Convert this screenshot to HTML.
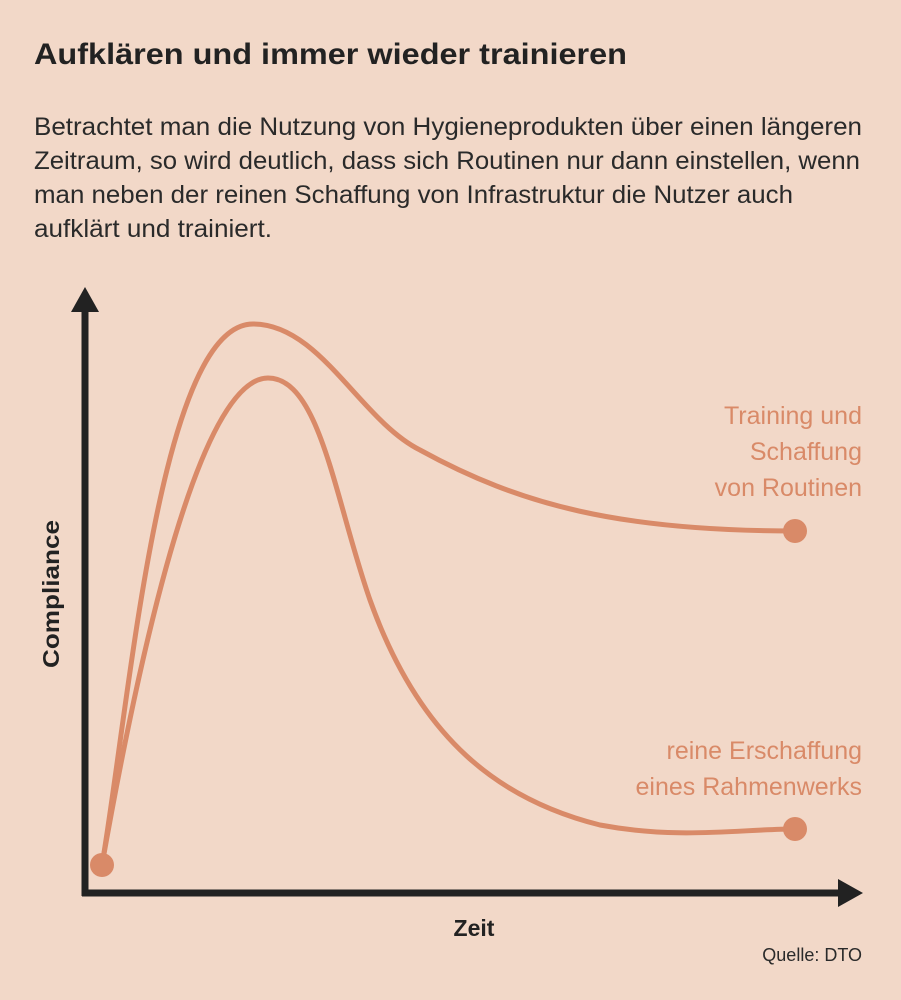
<!DOCTYPE html>
<html><head><meta charset="utf-8"><style>
html,body{margin:0;padding:0;}
body{width:901px;height:1000px;background:#f2d8c8;overflow:hidden;position:relative;font-family:"Liberation Sans",sans-serif;}
</style></head><body>
<svg width="901" height="1000" viewBox="0 0 901 1000" xmlns="http://www.w3.org/2000/svg" style="position:absolute;left:0;top:0">
<text x="34" y="64" font-family="Liberation Sans" font-weight="bold" font-size="30" fill="#222" textLength="593" lengthAdjust="spacingAndGlyphs">Aufklären und immer wieder trainieren</text>
<g font-family="Liberation Sans" font-size="25" fill="#2a2a2a">
<text x="34" y="135" textLength="828" lengthAdjust="spacingAndGlyphs">Betrachtet man die Nutzung von Hygieneprodukten über einen längeren</text>
<text x="34" y="169" textLength="826" lengthAdjust="spacingAndGlyphs">Zeitraum, so wird deutlich, dass sich Routinen nur dann einstellen, wenn</text>
<text x="34" y="203" textLength="759" lengthAdjust="spacingAndGlyphs">man neben der reinen Schaffung von Infrastruktur die Nutzer auch</text>
<text x="34" y="237" textLength="238" lengthAdjust="spacingAndGlyphs">aufklärt und trainiert.</text>
</g>
<g stroke="#222" stroke-width="7" fill="none">
<line x1="85" y1="308" x2="85" y2="896"/>
<line x1="82" y1="893" x2="842" y2="893"/>
</g>
<polygon points="85,287 71,312 99,312" fill="#222"/>
<polygon points="863,893 838,879 838,907" fill="#222"/>
<g stroke="#d98a68" stroke-width="5" fill="none" stroke-linecap="round">
<path d="M102,865 C130,700 160,324 253,324 C320,324 360,420 420,450 C520,505 620,531 795,531"/>
<path d="M102,865 C140,650 200,378 268,378 C320,378 335,500 370,600 C420,740 500,800 600,825 C680,840 740,829 795,829"/>
</g>
<g fill="#d98a68">
<circle cx="102" cy="865" r="12"/>
<circle cx="795" cy="531" r="12"/>
<circle cx="795" cy="829" r="12"/>
</g>
<g font-family="Liberation Sans" font-size="25" fill="#d98a68" text-anchor="end">
<text x="862" y="424">Training und</text>
<text x="862" y="460">Schaffung</text>
<text x="862" y="496">von Routinen</text>
<text x="862" y="759">reine Erschaffung</text>
<text x="862" y="795">eines Rahmenwerks</text>
</g>
<text x="474" y="936" font-family="Liberation Sans" font-weight="bold" font-size="23" fill="#222" text-anchor="middle">Zeit</text>
<text transform="translate(59,594) rotate(-90)" font-family="Liberation Sans" font-weight="bold" font-size="23" fill="#222" text-anchor="middle" textLength="148" lengthAdjust="spacingAndGlyphs">Compliance</text>
<text x="862" y="961" font-family="Liberation Sans" font-size="18" fill="#2a2a2a" text-anchor="end">Quelle: DTO</text>
</svg>
</body></html>
